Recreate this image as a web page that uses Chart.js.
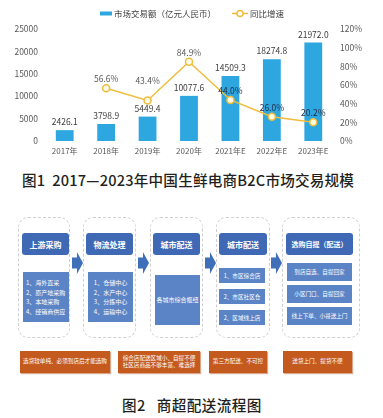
<!DOCTYPE html>
<html>
<head>
<meta charset="utf-8">
<script src="https://cdn.jsdelivr.net/npm/chart.js@4.4.1/dist/chart.umd.min.js"></script>
<style>
body { margin: 0; background: #fff; width: 383px; height: 418px; overflow: hidden; position: relative; font-family: "Noto Sans CJK SC", sans-serif; }
#chartBox { position: absolute; left: 0; top: 0; width: 383px; height: 160px; }
.cap { position: absolute; color: #231f20; font-weight: 500; white-space: nowrap; line-height: 16px; }
.dash { position: absolute; border: 1px dashed #cfcfcf; border-radius: 10px; box-sizing: border-box; }
.head { position: absolute; background: #3f69b4; color: #fff; border-radius: 3px; display: flex; align-items: center; justify-content: center; font-size: 8px; font-weight: 600; white-space: nowrap; }
.body { position: absolute; background: #5b84c6; color: #fff; font-size: 6px; line-height: 9.5px; white-space: nowrap; display: flex; flex-direction: column; justify-content: center; }
.sub { position: absolute; background: #5b84c6; color: #fff; font-size: 5.6px; display: flex; align-items: center; justify-content: center; white-space: nowrap; }
.arrow { position: absolute; background: #3f6fb8; clip-path: polygon(0 25%, 45% 25%, 45% 0, 100% 50%, 45% 100%, 45% 75%, 0 75%); }
.warn { position: absolute; background: #c55a1e; color: #fff; font-size: 5.6px; line-height: 7.5px; display: flex; flex-direction: column; align-items: center; justify-content: center; white-space: nowrap; box-shadow: 1px 1px 1px #d9a88c; }
</style>
</head>
<body>
<div id="chartBox"><canvas id="myChart" width="383" height="160"></canvas></div>
<div class="cap" style="left:22px; top:172px; font-size:14.6px; letter-spacing:0.2px;">图1&nbsp;&nbsp;2017—2023年中国生鲜电商B2C市场交易规模</div>

<div id="flow"></div>

<div class="cap" style="left:122px; top:397px; font-size:14.6px; letter-spacing:0.4px;">图2&nbsp;&nbsp;&nbsp;商超配送流程图</div>

<script>
// chart data
const years = ['2017年', '2018年', '2019年', '2020年', '2021年E', '2022年E', '2023年E'];
const marketValue = [2426.1, 3798.9, 5449.4, 10077.6, 14509.3, 18274.8, 21972.0];
const growthRate = [null, 56.6, 43.4, 84.9, 44.0, 26.0, 20.2];
const barLabel = '市场交易额（亿元人民币）';
const lineLabel = '同比增速';

// flow chart texts
const stageTitles = ['上游采购', '物流处理', '城市配送', '城市配送', '选购自提（配送）'];
const purchaseItems = ['1、海外直采', '2、原产地采购', '3、本地采购', '4、经销商供应'];
const logisticsItems = ['1、仓储中心', '2、水产中心', '3、分拣中心', '4、运输中心'];
const hubItems = ['各城市综合枢纽'];
const deliveryItems = ['1、市区综合店', '2、市区社区仓', '2、区域线上店'];
const pickupItems = ['到店自选、自提回家', '小区门口、自提回家', '线上下单、小哥送上门'];
const problems = [
    ['选货较单纯、必须到店后才能选购'],
    ['综合店配送区域小、自提不便', '社区店商品不够丰富、难选择'],
    ['第三方配送、不可控'],
    ['送货上门、提货不便']
];

let barColor = '#2ea7e0';
let lineColor = '#efbd3a';
let textColor = '#595959';
let fontFamily = '"Noto Sans CJK SC", sans-serif';

// legend + value labels drawn on the canvas
const labelPlugin = {
    id: 'labelPlugin',
    afterDatasetsDraw: (chart) => {
        const ctx = chart.ctx;
        ctx.save();
        ctx.font = '8.5px ' + fontFamily;
        ctx.textAlign = 'center';
        ctx.textBaseline = 'bottom';
        const bars = chart.getDatasetMeta(1).data;
        bars.forEach((bar, i) => {
            ctx.fillStyle = '#404040';
            ctx.fillText(marketValue[i].toFixed(1), bar.x, bar.y - 4);
        });
        const points = chart.getDatasetMeta(0).data;
        points.forEach((pt, i) => {
            if (growthRate[i] == null) return;
            const overBar = pt.y > bars[i].y;
            // lift the label when the point sits on the bar's value label
            const barLabelTop = bars[i].y - 14;
            const lift = (!overBar && pt.y + 4 > barLabelTop) ? 10 : 0;
            ctx.fillStyle = overBar ? '#1d2b45' : textColor;
            ctx.fillText(growthRate[i].toFixed(1) + '%', pt.x, pt.y - 5 - lift);
        });

        // legend
        ctx.textAlign = 'left';
        ctx.textBaseline = 'middle';
        ctx.fillStyle = barColor;
        ctx.fillRect(100, 11.5, 12, 4);
        ctx.fillStyle = '#404040';
        ctx.fillText(barLabel, 114, 13.5);
        ctx.strokeStyle = lineColor;
        ctx.lineWidth = 1.5;
        ctx.beginPath();
        ctx.moveTo(232, 13.5);
        ctx.lineTo(248, 13.5);
        ctx.stroke();
        ctx.beginPath();
        ctx.arc(240, 13.5, 3, 0, Math.PI * 2);
        ctx.fillStyle = '#fff';
        ctx.fill();
        ctx.stroke();
        ctx.fillStyle = '#404040';
        ctx.fillText(lineLabel, 250, 13.5);
        ctx.restore();
    }
};

new Chart(document.getElementById('myChart').getContext('2d'), {
    type: 'bar',
    data: {
        labels: years,
        datasets: [
            {
                type: 'line',
                label: lineLabel,
                data: growthRate,
                yAxisID: 'y1',
                borderColor: lineColor,
                borderWidth: 1.5,
                pointRadius: 3.5,
                pointBorderWidth: 1.5,
                pointBackgroundColor: '#fffbe8',
                pointBorderColor: lineColor,
                tension: 0,
                order: 1
            },
            {
                label: barLabel,
                data: marketValue,
                yAxisID: 'y',
                backgroundColor: barColor,
                categoryPercentage: 1,
                barPercentage: 0.43,
                order: 2
            }
        ]
    },
    options: {
        responsive: false,
        animation: false,
        layout: { padding: { top: 29, left: 0, right: 0, bottom: 0 } },
        plugins: { legend: { display: false }, tooltip: { enabled: false } },
        scales: {
            x: {
                grid: { display: false, drawTicks: false },
                border: { display: false },
                ticks: { color: textColor, font: { size: 8, family: fontFamily }, padding: 5 },
                afterFit: (scale) => { scale.height = 19; }
            },
            y: {
                position: 'left',
                min: 0,
                max: 25000,
                grid: { display: false, drawTicks: false },
                border: { display: false },
                ticks: {
                    stepSize: 5000,
                    color: textColor,
                    font: { size: 8.5, family: fontFamily },
                    padding: 6,
                    callback: (v) => String(v)
                },
                afterFit: (scale) => { scale.width = 44; }
            },
            y1: {
                position: 'right',
                min: 0,
                max: 120,
                grid: { display: false, drawTicks: false },
                border: { display: false },
                ticks: {
                    stepSize: 20,
                    color: textColor,
                    font: { size: 8.5, family: fontFamily },
                    padding: 6,
                    callback: (v) => v + '%'
                },
                afterFit: (scale) => { scale.width = 49; }
            }
        }
    },
    plugins: [labelPlugin]
});

// flow chart built from the text lists
const flow = document.getElementById('flow');
function box(cls, x, y, w, h, html, extra) {
    const d = document.createElement('div');
    d.className = cls;
    d.style.left = x + 'px';
    d.style.top = y + 'px';
    d.style.width = w + 'px';
    d.style.height = h + 'px';
    if (html) d.innerHTML = html;
    if (extra) Object.assign(d.style, extra);
    flow.appendChild(d);
    return d;
}

const dashes = [[18, 52], [83, 53], [150, 53], [216, 54], [282, 78]];
dashes.forEach(([x, w]) => box('dash', x, 217, w, 121));

const heads = [[22, 47], [86, 47], [153, 47], [219, 48], [286, 67]];
heads.forEach(([x, w], i) => box('head', x, 233, w, 22, stageTitles[i], i == 4 ? { fontSize: '7px' } : null));

box('body', 23, 272, 46, 50, purchaseItems.map(t => '<div>' + t + '</div>').join(''), { paddingLeft: '3px', boxSizing: 'border-box' });
box('body', 88, 272, 45, 50, logisticsItems.map(t => '<div>' + t + '</div>').join(''), { alignItems: 'center' });
box('body', 155, 275, 45, 50, hubItems.map(t => '<div>' + t + '</div>').join(''), { alignItems: 'center' });
deliveryItems.forEach((t, i) => box('sub', 219, 268 + i * 21, 46, 15, t));
pickupItems.forEach((t, i) => box('sub', 287, 263 + i * 22, 65, 18, t));

[72, 138, 205, 271].forEach(x => box('arrow', x, 252, 11, 22));

const warnBoxes = [[20, 90], [118, 82], [209, 58], [283, 69]];
warnBoxes.forEach(([x, w], i) => box('warn', x, 351, w, 22, problems[i].map(t => '<div>' + t + '</div>').join('')));
</script>
</body>
</html>
